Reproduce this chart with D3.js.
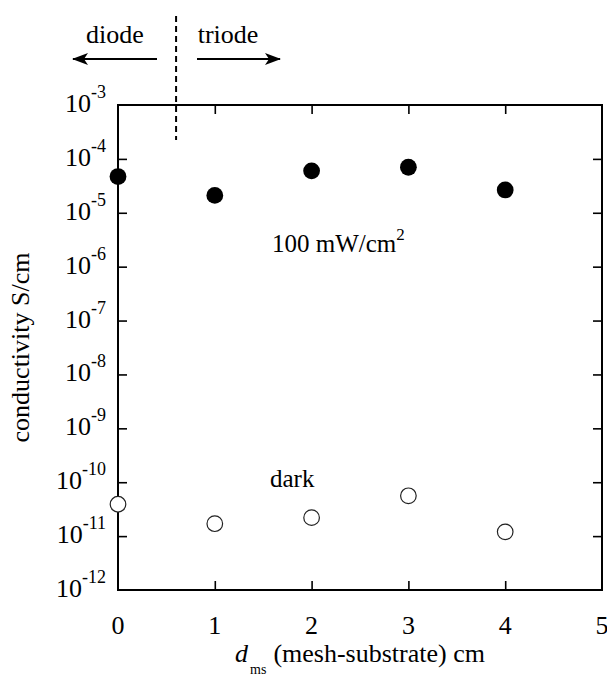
<!DOCTYPE html>
<html>
<head>
<meta charset="utf-8">
<script src="https://cdn.jsdelivr.net/npm/d3@7"></script>
</head>
<body style="margin:0">
<svg id="chart" width="607" height="677"></svg>
<script>
// ---- data ----
const distances = [0, 1, 2, 3, 4];                       // d_ms (cm)
const illuminated = [4.7e-5, 2.1e-5, 6.0e-5, 7.0e-5, 2.65e-5]; // 100 mW/cm2
const darkValues = [3.9e-11, 1.7e-11, 2.2e-11, 5.6e-11, 1.2e-11];
const xTicks = [0, 1, 2, 3, 4, 5];
const yExponents = [-3, -4, -5, -6, -7, -8, -9, -10, -11, -12];
const boundary = 0.6; // diode / triode separation

// ---- layout ----
const W = 607, H = 677;
const margin = { left: 118, right: 5, top: 105, bottom: 87 };
const svg = d3.select("#chart");
const x = d3.scaleLinear().domain([0, 5]).range([margin.left, W - margin.right]);
const y = d3.scaleLog().domain([1e-12, 1e-3]).range([H - margin.bottom, margin.top]);
const x0 = x.range()[0], x1 = x.range()[1], y0 = y.range()[0], y1 = y.range()[1];
const tickLen = 9;

function txt(sel) { return sel.style("font-family", `"Liberation Serif"`); }

const g = svg.append("g");

// ticks inside on all four sides
const yTickVals = yExponents.map(e => Math.pow(10, e));
const bottomAxis = d3.axisBottom(x).tickValues(xTicks.slice(1, -1)).tickSize(-tickLen).tickFormat("");
const topAxis = d3.axisTop(x).tickValues(xTicks.slice(1, -1)).tickSize(-tickLen).tickFormat("");
const leftAxis = d3.axisLeft(y).tickValues(yTickVals.slice(1, -1)).tickSize(-tickLen).tickFormat("");
const rightAxis = d3.axisRight(y).tickValues(yTickVals.slice(1, -1)).tickSize(-tickLen).tickFormat("");

function styleAxis(sel) {
  sel.select(".domain").remove();
  sel.selectAll("line").attr("stroke", "#000").attr("stroke-width", 1.6);
}
g.append("g").attr("transform", `translate(0,${y0})`).call(bottomAxis).call(styleAxis);
g.append("g").attr("transform", `translate(0,${y1})`).call(topAxis).call(styleAxis);
g.append("g").attr("transform", `translate(${x0},0)`).call(leftAxis).call(styleAxis);
g.append("g").attr("transform", `translate(${x1},0)`).call(rightAxis).call(styleAxis);
// d3 axes set font-family="sans-serif" on their groups; strip it
g.selectAll("g").attr("font-family", null);

// frame
g.append("rect").attr("x", x0).attr("y", y1).attr("width", x1 - x0).attr("height", y0 - y1)
  .attr("fill", "none").attr("stroke", "#000").attr("stroke-width", 2);

// x tick labels
svg.selectAll(".xl").data(xTicks).enter().append("text").call(txt)
  .attr("x", d => x(d)).attr("y", y0 + 44)
  .attr("text-anchor", "middle").attr("font-size", 26)
  .text(d => d);

// y tick labels 10^n
const yl = svg.selectAll(".yl").data(yExponents).enter().append("text").call(txt)
  .attr("x", x0 - 12).attr("y", d => y(Math.pow(10, d)) + 7)
  .attr("text-anchor", "end").attr("font-size", 26);
yl.append("tspan").text("10");
yl.append("tspan").attr("font-size", 18).attr("dy", -14).text(d => d);

// axis titles
svg.append("text").call(txt)
  .attr("transform", `translate(29,${(y0 + y1) / 2}) rotate(-90)`)
  .attr("text-anchor", "middle").attr("font-size", 26)
  .text("conductivity S/cm");

const xt = svg.append("text").call(txt)
  .attr("x", (x0 + x1) / 2).attr("y", 662)
  .attr("text-anchor", "middle").attr("font-size", 26);
xt.append("tspan").attr("font-style", "italic").text("d");
xt.append("tspan").attr("font-size", 14).attr("dy", 12).attr("dx", 2).text("ms");
xt.append("tspan").attr("dy", -12).attr("dx", 7).text("(mesh-substrate) cm");

// diode / triode boundary
svg.append("line")
  .attr("x1", x(boundary)).attr("x2", x(boundary))
  .attr("y1", 16).attr("y2", 140)
  .attr("stroke", "#000").attr("stroke-width", 2).attr("stroke-dasharray", "6,4");

const defs = svg.append("defs");
defs.append("marker").attr("id", "arr").attr("viewBox", "0 0 16 12")
  .attr("refX", 15).attr("refY", 6).attr("markerWidth", 16).attr("markerHeight", 12)
  .attr("markerUnits", "userSpaceOnUse").attr("orient", "auto")
  .append("path").attr("d", "M0,0 L16,6 L0,12 L4,6 Z").attr("fill", "#000");

svg.append("line").attr("x1", 157).attr("x2", 73).attr("y1", 59).attr("y2", 59)
  .attr("stroke", "#000").attr("stroke-width", 2).attr("marker-end", "url(#arr)");
svg.append("line").attr("x1", 197).attr("x2", 280).attr("y1", 59).attr("y2", 59)
  .attr("stroke", "#000").attr("stroke-width", 2).attr("marker-end", "url(#arr)");
svg.append("text").call(txt).attr("x", 115).attr("y", 43).attr("text-anchor", "middle")
  .attr("font-size", 26).text("diode");
svg.append("text").call(txt).attr("x", 228).attr("y", 43).attr("text-anchor", "middle")
  .attr("font-size", 26).text("triode");

// annotations
const ann = svg.append("text").call(txt).attr("x", 272).attr("y", 252).attr("font-size", 25);
ann.append("tspan").text("100 mW/cm");
ann.append("tspan").attr("font-size", 17).attr("dy", -12).text("2");
svg.append("text").call(txt).attr("x", 270).attr("y", 487).attr("font-size", 25).text("dark");

// data points
svg.selectAll(".fill").data(distances).enter().append("circle")
  .attr("cx", d => x(d)).attr("cy", (d, i) => y(illuminated[i]))
  .attr("r", 8.4).attr("fill", "#000");
svg.selectAll(".open").data(distances).enter().append("circle")
  .attr("cx", d => x(d)).attr("cy", (d, i) => y(darkValues[i]))
  .attr("r", 7.8).attr("fill", "#fff").attr("stroke", "#222").attr("stroke-width", 1.2);
</script>
</body>
</html>
